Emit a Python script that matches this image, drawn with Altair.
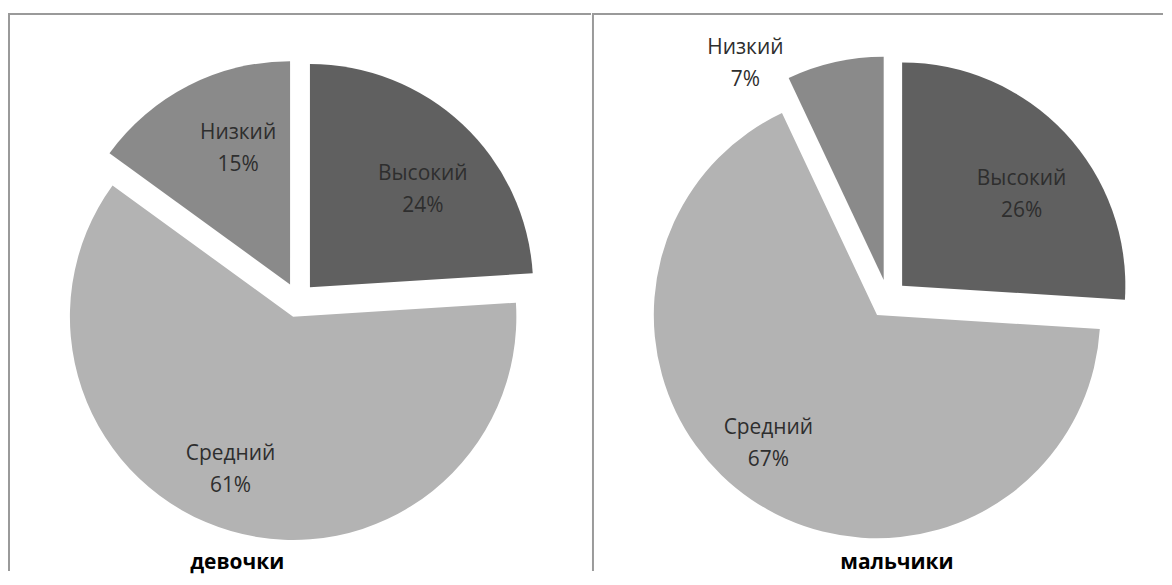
import math
import altair as alt
import pandas as pd

categories = ["Высокий", "Средний", "Низкий"]
girls_values = [24, 61, 15]
boys_values = [26, 67, 7]
titles = ["девочки", "мальчики"]
colors = ["#606060", "#b3b3b3", "#8a8a8a"]

R = 224
FONT = "Open Sans"


def pie(values, title, width, cx0, cy0, explode, title_x):
    df = pd.DataFrame({"category": categories, "value": values, "order": list(range(len(values)))})
    base = (
        alt.Chart(df)
        .transform_joinaggregate(total="sum(value)")
        .transform_window(cum="sum(value)", sort=[alt.SortField("order")], frame=[None, 0])
        .transform_calculate(
            t0="2*PI*(datum.cum - datum.value)/datum.total",
            t1="2*PI*datum.cum/datum.total",
            frac="datum.value/datum.total",
        )
        .transform_calculate(mid="(datum.t0 + datum.t1)/2")
        .transform_calculate(
            cx=f"{cx0} + {explode}*sin(datum.mid)",
            cy=f"{cy0} - {explode}*cos(datum.mid)",
            small="datum.frac < 0.1",
        )
        .transform_calculate(
            la=f"datum.small ? datum.mid - {math.radians(20)} : datum.mid + {math.radians(6)}",
            lr=f"datum.small ? {1.15 * R} : {R} * (0.62 + 0.2 * datum.frac)",
            label="datum.category + '\\n' + datum.value + '%'",
        )
        .transform_calculate(
            lx="datum.cx + datum.lr*sin(datum.la)",
            ly="datum.cy - datum.lr*cos(datum.la)",
        )
    )
    arcs = base.mark_arc(radius=R, stroke=None).encode(
        x=alt.X("cx:Q", scale=None, axis=None),
        y=alt.Y("cy:Q", scale=None, axis=None),
        theta=alt.Theta("t0:Q", scale=None),
        theta2=alt.Theta2("t1:Q"),
        color=alt.Color("category:N", scale=alt.Scale(domain=categories, range=colors), legend=None),
    )
    labels = base.mark_text(
        font=FONT, fontSize=21, color="#2e2e2e", lineBreak="\n", lineHeight=32,
        align="center", baseline="middle", dy=-16
    ).encode(
        x=alt.X("lx:Q", scale=None, axis=None),
        y=alt.Y("ly:Q", scale=None, axis=None),
        text="label:N",
    )
    ttl = alt.Chart(pd.DataFrame({"t": [title]})).mark_text(
        font=FONT, fontSize=21, fontWeight="bold", color="#000000", align="center", baseline="middle"
    ).encode(x=alt.value(title_x), y=alt.value(552), text="t:N")
    top = alt.Chart(pd.DataFrame({"a": [0]})).mark_rule(color="#9a9a9a", strokeWidth=2).encode(
        x=alt.value(0), x2=alt.value(width), y=alt.value(1)
    )
    left = alt.Chart(pd.DataFrame({"a": [0]})).mark_rule(color="#9a9a9a", strokeWidth=2).encode(
        x=alt.value(0), y=alt.value(0), y2=alt.value(560)
    )
    return alt.layer(arcs, labels, ttl, top, left).properties(width=width, height=555)


c1 = pie(girls_values, titles[0], 584, 290, 288, 17.5, 229)
c2 = pie(boys_values, titles[1], 572, 296, 287, 19.5, 305)

chart = (
    alt.hconcat(c1, c2, spacing=0)
    .properties(padding={"left": 0, "top": 3, "right": 0, "bottom": 0})
    .configure_view(stroke=None)
)

chart.save("out.html", embed_options={"renderer": "svg", "actions": False})
